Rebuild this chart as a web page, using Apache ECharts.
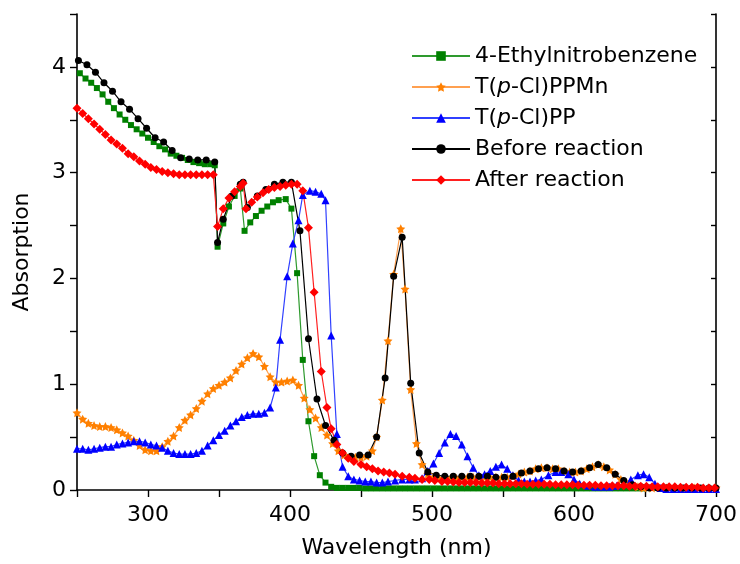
<!DOCTYPE html>
<html>
<head>
<meta charset="utf-8">
<script src="https://cdn.jsdelivr.net/npm/echarts@6/dist/echarts.min.js"></script>
<style>
  html, body { margin: 0; padding: 0; background: #fff; }
  #main { width: 740px; height: 564px; }
</style>
</head>
<body>
<div id="main"></div>
<script>
// 4-Ethylnitrobenzene
var greenX = [252,256,260,264,268,272,276,280,284,288,292,296,300,304,308,312,316,320,324,328,332,336,340,344,347,
  349,353,357,361,365,368,372,376,380,384,388,392,397,401,405,409,413,417,421,425,429,433,
  437,441,445,449,453,457,461,465,469,473,477,481,485,489,493,497,501,505,509,513,517,521,525,529,533,537,541,545,549,553,557,561,565,569,573,577,581,585,589,593,597,601,605,609,613,617,621,625,629,633,637,641,645,649];
var greenY = [3.94,3.89,3.85,3.80,3.74,3.67,3.61,3.55,3.50,3.45,3.41,3.37,3.33,3.29,3.25,3.22,3.18,3.16,3.14,3.12,3.10,3.09,3.08,3.08,3.07,
  2.30,2.52,2.68,2.78,2.85,2.45,2.53,2.59,2.64,2.68,2.72,2.74,2.75,2.66,2.05,1.23,0.65,0.32,0.14,0.07,0.03,0.02,
  0.02,0.02,0.02,0.02,0.015,0.015,0.015,0.015,0.015,
  0.015,0.015,0.015,0.015,0.015,0.015,0.015,0.015,0.015,
  0.015,0.015,0.015,0.015,0.015,0.015,0.015,0.015,0.015,
  0.015,0.015,0.015,0.015,0.015,0.015,0.015,0.015,0.015,
  0.015,0.015,0.015,0.015,0.015,0.015,0.015,0.015,0.015,
  0.015,0.015,0.015,0.015,0.015,0.015,0.015,0.015,0.015];

// T(p-Cl)PPMn
var orangeX = [250,254,258,262,266,270,274,278,282,286,290,294,298,302,306,310,314,318,322,326,330,334,338,342,346,350,354,358,362,366,370,374,378,382,386,390,394,398,402,406,410,414,418,422,426,430,434,438,442,446,450,454,458,461,465,469,473,478,481,485,489,493,497,501,505,509,513,517,521,525,529,533,537,541,545,549,553,557,561,565,569,573,577,581,585,589,593,597,601,605,609,613,617,621,625,629,633,637,641,645,649,655,665,675,685,695,700];
var orangeY = [0.73,0.67,0.63,0.61,0.60,0.60,0.59,0.57,0.54,0.51,0.47,0.42,0.38,0.37,0.37,0.41,0.46,0.51,0.59,0.66,0.71,0.77,0.84,0.91,0.96,0.99,1.02,1.06,1.13,1.19,1.25,1.29,1.26,1.17,1.07,1.02,1.02,1.03,1.04,0.99,0.87,0.76,0.68,0.59,0.52,0.44,0.37,0.33,0.31,0.31,0.31,0.32,0.37,0.50,0.85,1.41,2.04,2.47,1.90,0.95,0.44,0.24,0.15,0.12,0.11,0.11,0.11,0.11,0.12,0.12,0.12,0.12,0.12,0.12,0.12,0.12,0.12,0.13,0.15,0.17,0.18,0.20,0.21,0.21,0.20,0.20,0.18,0.17,0.17,0.18,0.20,0.22,0.24,0.22,0.19,0.15,0.10,0.07,0.05,0.03,0.02,0.02,0.02,0.02,0.02,0.02,0.02];

// T(p-Cl)PP
var blueX = [250,254,258,262,266,270,274,278,282,286,290,294,298,302,306,310,314,318,322,326,330,334,338,342,346,350,354,358,362,366,370,374,378,382,386,390,393,398,402,406,409,414,418,422,425,429,433,437,441,445,449,453,457,461,465,469,474,479,484,488,493,497,501,505,509,513,517,521,525,529,533,537,541,545,549,553,557,561,565,569,573,577,582,587,591,596,600,604,610,615,620,625,630,635,640,645,649,653,657,661,665,670,675,680,685,690,695,700];
var blueY = [0.39,0.39,0.38,0.39,0.40,0.41,0.41,0.43,0.44,0.45,0.46,0.46,0.45,0.43,0.42,0.40,0.37,0.35,0.34,0.34,0.34,0.35,0.37,0.42,0.47,0.52,0.56,0.61,0.65,0.69,0.71,0.72,0.72,0.73,0.78,0.97,1.42,2.02,2.33,2.55,2.79,2.83,2.82,2.80,2.74,1.46,0.53,0.22,0.13,0.10,0.09,0.08,0.08,0.07,0.07,0.08,0.09,0.10,0.10,0.10,0.11,0.18,0.25,0.35,0.45,0.53,0.51,0.43,0.32,0.21,0.14,0.15,0.18,0.22,0.24,0.20,0.14,0.09,0.08,0.08,0.09,0.10,0.14,0.17,0.17,0.15,0.10,0.06,0.04,0.03,0.03,0.03,0.04,0.06,0.10,0.14,0.15,0.12,0.06,0.02,0.01,0.01,0.01,0.01,0.01,0.01,0.01,0.01];

// Before reaction
var blackX = [251,257,263,269,275,281,287,293,299,305,311,317,323,329,335,341,347,349,353,359,365,367,370,377,383,389,395,401,407,413,419,425,431,437,443,449,455,461,467,473,479,485,491,497,503,509,515,521,527,533,539,545,551,557,563,569,575,581,587,593,599,605,611,617,623,629,635,641,647,653,659,665,671,677,683,689,695,700];
var blackY = [4.06,4.02,3.95,3.85,3.77,3.67,3.60,3.51,3.42,3.33,3.29,3.21,3.14,3.13,3.12,3.12,3.10,2.34,2.56,2.78,2.89,2.91,2.67,2.78,2.84,2.89,2.91,2.91,2.45,1.43,0.86,0.61,0.47,0.35,0.32,0.33,0.33,0.50,1.06,2.02,2.39,1.01,0.35,0.17,0.14,0.13,0.13,0.13,0.13,0.13,0.13,0.12,0.12,0.13,0.16,0.18,0.20,0.21,0.20,0.18,0.17,0.18,0.21,0.24,0.21,0.15,0.09,0.05,0.03,0.02,0.02,0.02,0.02,0.02,0.02,0.02,0.02,0.02];

// After reaction
var redX = [250,254,258,262,266,270,274,278,282,286,290,294,298,302,306,310,314,318,322,326,330,334,338,342,346,349,353,357,361,365,367,369,373,377,381,385,389,393,397,401,405,409,413,417,422,426,429,433,437,441,445,450,454,458,462,466,470,474,479,484,488,493,498,502,507,511,515,519,523,527,531,535,539,543,547,551,555,559,563,567,571,575,579,583,587,591,595,599,603,607,611,615,619,623,627,631,635,639,643,647,651,655,659,663,667,671,675,679,683,687,691,695,699];
var redY = [3.61,3.56,3.51,3.46,3.41,3.36,3.31,3.27,3.23,3.18,3.15,3.11,3.08,3.05,3.03,3.01,3.00,2.99,2.98,2.98,2.98,2.98,2.98,2.98,2.98,2.49,2.66,2.76,2.82,2.87,2.90,2.66,2.72,2.77,2.81,2.84,2.86,2.87,2.88,2.89,2.89,2.83,2.48,1.87,1.12,0.78,0.58,0.43,0.35,0.30,0.27,0.24,0.22,0.20,0.18,0.17,0.16,0.15,0.13,0.12,0.11,0.10,0.10,0.09,0.08,0.08,0.075,0.07,0.07,0.07,0.07,0.065,0.065,0.065,0.06,0.06,0.06,0.06,0.06,0.055,0.055,0.055,0.055,0.055,0.05,0.05,0.05,0.05,0.045,0.045,0.045,0.045,0.04,0.04,0.04,0.04,0.04,0.035,0.035,0.035,0.035,0.03,0.03,0.03,0.03,0.03,0.025,0.025,0.025,0.025,0.02,0.02,0.02];

var FONT = 'DejaVu Sans';
var starPath = 'path://M0,-10L2.94,-4.05L9.51,-3.09L4.76,1.55L5.88,8.09L0,5L-5.88,8.09L-4.76,1.55L-9.51,-3.09L-2.94,-4.05Z';

function pairs(xs, ys) {
    return xs.map(function (x, i) { return [x, ys[i]]; });
}

function makeSeries(name, xs, ys, symbol, size, lineColor, markColor) {
    return {
        name: name,
        type: 'line',
        data: pairs(xs, ys),
        symbol: symbol,
        symbolSize: size,
        showAllSymbol: true,
        animation: false,
        lineStyle: { color: lineColor, width: 1.2 },
        itemStyle: { color: markColor }
    };
}

var chart = echarts.init(document.getElementById('main'));

chart.setOption({
    backgroundColor: '#ffffff',
    grid: { left: 77, right: 22, top: 14, bottom: 73 },
    legend: {
        orient: 'vertical',
        left: 406,
        top: 40,
        itemWidth: 58,
        itemHeight: 12,
        itemGap: 9,
        textStyle: {
            fontFamily: FONT, fontSize: 22, color: '#000', lineHeight: 22,
            rich: { it: { fontFamily: FONT, fontSize: 22, fontStyle: 'italic', color: '#000' } }
        },
        formatter: function (name) {
            return name.replace('(p-', '({it|p}-');
        },
        data: ['4-Ethylnitrobenzene', 'T(p-Cl)PPMn', 'T(p-Cl)PP', 'Before reaction', 'After reaction']
    },
    xAxis: {
        type: 'value', min: 250, max: 700, interval: 50,
        name: 'Wavelength (nm)', nameLocation: 'middle', nameGap: 47,
        nameTextStyle: { fontFamily: FONT, fontSize: 22, color: '#000' },
        axisLine: { lineStyle: { color: '#000', width: 1.6 } },
        axisTick: { inside: false, length: 7, lineStyle: { color: '#000', width: 1.4 } },
        axisLabel: {
            margin: 14, fontFamily: FONT, fontSize: 22, color: '#000',
            formatter: function (v) { return (v % 100 === 0) ? String(v) : ''; }
        },
        splitLine: { show: false }
    },
    yAxis: [
        {
            type: 'value', min: 0, max: 4.5, interval: 0.5,
            name: 'Absorption', nameLocation: 'middle', nameGap: 44,
            nameTextStyle: { fontFamily: FONT, fontSize: 22, color: '#000' },
            axisLine: { show: true, lineStyle: { color: '#000', width: 1.6 } },
            axisTick: { show: true, inside: false, length: 7, lineStyle: { color: '#000', width: 1.4 } },
            axisLabel: {
                margin: 11, fontFamily: FONT, fontSize: 22, color: '#000',
                formatter: function (v) { return (v % 1 === 0) ? String(v) : ''; }
            },
            splitLine: { show: false }
        },
        {
            type: 'value', min: 0, max: 4.5, interval: 0.5, position: 'right',
            axisLine: { show: true, lineStyle: { color: '#000', width: 1.6 } },
            axisTick: { show: true, inside: true, length: 5, lineStyle: { color: '#000', width: 1.4 } },
            axisLabel: { show: false },
            splitLine: { show: false }
        }
    ],
    series: [
        makeSeries('4-Ethylnitrobenzene', greenX, greenY, 'rect', 6, '#2e9a2e', '#008000'),
        makeSeries('T(p-Cl)PPMn', orangeX, orangeY, starPath, 9, '#ffa050', '#ff8000'),
        makeSeries('T(p-Cl)PP', blueX, blueY, 'triangle', 8, '#3040ff', '#0000ff'),
        makeSeries('Before reaction', blackX, blackY, 'circle', 7, '#000000', '#000000'),
        makeSeries('After reaction', redX, redY, 'diamond', 9, '#ff2020', '#ff0000')
    ]
});
</script>
</body>
</html>
